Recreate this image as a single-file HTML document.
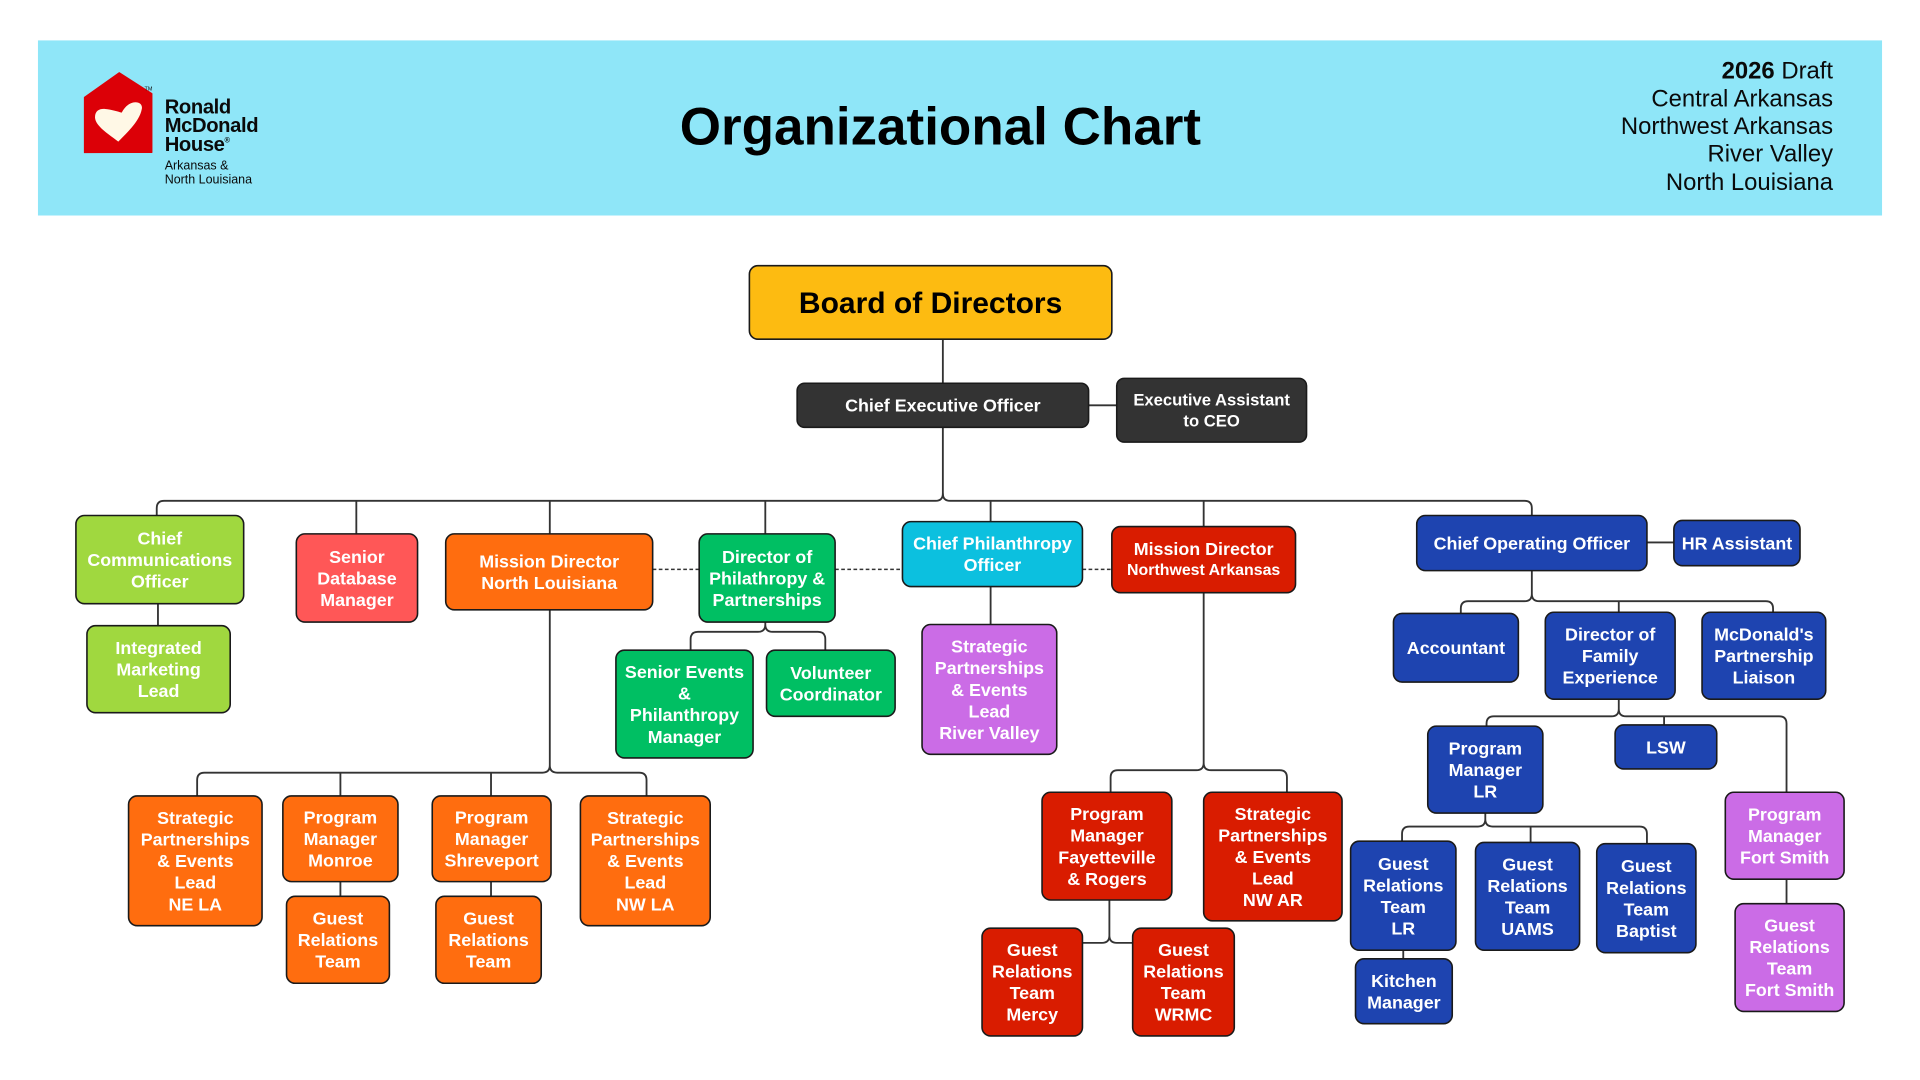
<!DOCTYPE html>
<html>
<head>
<meta charset="utf-8">
<style>
html,body{margin:0;padding:0;background:#ffffff;width:1920px;height:1080px;overflow:hidden}
svg{display:block}
</style>
</head>
<body>
<svg width="1920" height="1080" viewBox="0 0 1568 882" xmlns="http://www.w3.org/2000/svg" font-family="'Liberation Sans', Arial, sans-serif">
  <rect x="0" y="0" width="1568" height="882" fill="#ffffff"/>
  <!-- Banner -->
  <rect x="31" y="33" width="1506" height="143" fill="#8fe6f8"/>
  <!-- Logo -->
  <path d="M69,79.5 L97.4,59.4 L124,76.5 L124,124.4 L69,124.6 Z" fill="#dc0007" stroke="#dc0007" stroke-width="1" stroke-linejoin="round"/>
  <path d="M96.6,115.7 C88,109 78,103 77.6,96 C77.4,90 82,88.5 86,89 C91,89.5 96,91 99.4,92 C102,87 106,83.6 110.5,83.5 C114.5,83.5 116.5,86 115.8,89 C114,99 104,108 96.6,115.7 Z" fill="#fff8e6"/>
  <text x="118" y="74" font-size="4.5" fill="#111">TM</text>
  <g fill="#0a0a0a" font-weight="bold" font-size="16.5" letter-spacing="-0.3">
    <text x="134.5" y="92.5">Ronald</text>
    <text x="134.5" y="108">McDonald</text>
    <text x="134.5" y="123.5">House<tspan font-size="6" dy="-7">®</tspan></text>
  </g>
  <g fill="#0a0a0a" font-size="10.2">
    <text x="134.5" y="138.3">Arkansas &amp;</text>
    <text x="134.5" y="149.7">North Louisiana</text>
  </g>
  <!-- Title -->
  <text x="768" y="118" text-anchor="middle" font-size="43.3" font-weight="bold" fill="#000">Organizational Chart</text>
  <!-- Right info -->
  <g font-size="19.5" fill="#0a0a0a" text-anchor="end">
    <text x="1497" y="64"><tspan font-weight="bold">2026</tspan> Draft</text>
    <text x="1497" y="87">Central Arkansas</text>
    <text x="1497" y="109.5">Northwest Arkansas</text>
    <text x="1497" y="132">River Valley</text>
    <text x="1497" y="155">North Louisiana</text>
  </g>

  <!-- Connectors -->
  <g fill="none" stroke="#333" stroke-width="1.5">
    <path d="M770,277 V313"/>
    <path d="M889,331 H912"/>
    <path d="M128,421 V415 Q128,409 134,409 H764 Q770,409 770,403 V349"/>
    <path d="M770,403 Q770,409 776,409 H1245 Q1251,409 1251,415 V421"/>
    <path d="M291,409 V436 M449,409 V436 M625,409 V436 M809,409 V426 M983,409 V430"/>
    <path d="M129,493 V511"/>
    <path d="M625,508 V510 Q625,516 619,516 H570 Q564,516 564,522 V531 M625,510 Q625,516 631,516 H668 Q674,516 674,522 V531"/>
    <path d="M809,479 V510"/>
    <path d="M449,498 V625 Q449,631 443,631 H167 Q161,631 161,637 V650 M449,625 Q449,631 455,631 H522 Q528,631 528,637 V650 M278,631 V650 M401,631 V650"/>
    <path d="M278,720 V732 M401,720 V732"/>
    <path d="M983,484 V623 Q983,629 977,629 H913 Q907,629 907,635 V647 M983,623 Q983,629 989,629 H1045 Q1051,629 1051,635 V647"/>
    <path d="M906,735 V764 Q906,770 900,770 H884 M906,764 Q906,770 912,770 H925"/>
    <path d="M1251,466 V485 Q1251,491 1245,491 H1199 Q1193,491 1193,497 V501 M1251,485 Q1251,491 1257,491 H1442 Q1448,491 1448,497 V500 M1322,491 V500"/>
    <path d="M1345,443 H1367"/>
    <path d="M1322,571 V579 Q1322,585 1316,585 H1220 Q1214,585 1214,591 V593 M1322,579 Q1322,585 1328,585 H1453 Q1459,585 1459,591 V647 M1359,585 V592"/>
    <path d="M1213,664 V669 Q1213,675 1207,675 H1151 Q1145,675 1145,681 V687 M1213,669 Q1213,675 1219,675 H1339 Q1345,675 1345,681 V689 M1250,675 V688"/>
    <path d="M1146,776 V783"/>
    <path d="M1459,718 V738"/>
  </g>
  <g fill="none" stroke="#333" stroke-width="1.3" stroke-dasharray="3,2">
    <path d="M533,465 H571 M682,465 H737 M884,465 H908"/>
  </g>

  <!-- Boxes -->
  <g stroke="#1a1a1a" stroke-width="1.3">
    <rect x="612" y="217" width="296" height="60" rx="7" fill="#fdbb11"/>
    <rect x="651" y="313" width="238" height="36" rx="6" fill="#333333"/>
    <rect x="912" y="309" width="155" height="52" rx="6" fill="#333333"/>
    <rect x="62" y="421" width="137" height="72" rx="7" fill="#a0d83f"/>
    <rect x="71" y="511" width="117" height="71" rx="7" fill="#a0d83f"/>
    <rect x="242" y="436" width="99" height="72" rx="7" fill="#ff5757"/>
    <rect x="364" y="436" width="169" height="62" rx="7" fill="#ff6d0f"/>
    <rect x="571" y="436" width="111" height="72" rx="7" fill="#00bf63"/>
    <rect x="737" y="426" width="147" height="53" rx="7" fill="#0cc0df"/>
    <rect x="908" y="430" width="150" height="54" rx="7" fill="#d91c00"/>
    <rect x="1157" y="421" width="188" height="45" rx="7" fill="#1e44b0"/>
    <rect x="1367" y="425" width="103" height="37" rx="7" fill="#1e44b0"/>
    <rect x="503" y="531" width="112" height="88" rx="7" fill="#00bf63"/>
    <rect x="626" y="531" width="105" height="54" rx="7" fill="#00bf63"/>
    <rect x="753" y="510" width="110" height="106" rx="7" fill="#cb6ce6"/>
    <rect x="105" y="650" width="109" height="106" rx="7" fill="#ff6d0f"/>
    <rect x="231" y="650" width="94" height="70" rx="7" fill="#ff6d0f"/>
    <rect x="234" y="732" width="84" height="71" rx="7" fill="#ff6d0f"/>
    <rect x="353" y="650" width="97" height="70" rx="7" fill="#ff6d0f"/>
    <rect x="356" y="732" width="86" height="71" rx="7" fill="#ff6d0f"/>
    <rect x="474" y="650" width="106" height="106" rx="7" fill="#ff6d0f"/>
    <rect x="851" y="647" width="106" height="88" rx="7" fill="#d91c00"/>
    <rect x="983" y="647" width="113" height="105" rx="7" fill="#d91c00"/>
    <rect x="802" y="758" width="82" height="88" rx="7" fill="#d91c00"/>
    <rect x="925" y="758" width="83" height="88" rx="7" fill="#d91c00"/>
    <rect x="1138" y="501" width="102" height="56" rx="7" fill="#1e44b0"/>
    <rect x="1262" y="500" width="106" height="71" rx="7" fill="#1e44b0"/>
    <rect x="1390" y="500" width="101" height="71" rx="7" fill="#1e44b0"/>
    <rect x="1166" y="593" width="94" height="71" rx="7" fill="#1e44b0"/>
    <rect x="1319" y="592" width="83" height="36" rx="7" fill="#1e44b0"/>
    <rect x="1409" y="647" width="97" height="71" rx="7" fill="#cb6ce6"/>
    <rect x="1417" y="738" width="89" height="88" rx="7" fill="#cb6ce6"/>
    <rect x="1103" y="687" width="86" height="89" rx="7" fill="#1e44b0"/>
    <rect x="1205" y="688" width="85" height="88" rx="7" fill="#1e44b0"/>
    <rect x="1304" y="689" width="81" height="89" rx="7" fill="#1e44b0"/>
    <rect x="1107" y="783" width="79" height="53" rx="7" fill="#1e44b0"/>
  </g>

  <!-- Box text -->
  <text x="760" y="255.7" text-anchor="middle" font-size="24.5" font-weight="bold" fill="#000">Board of Directors</text>
  <g font-weight="bold" font-size="14.6" fill="#ffffff" text-anchor="middle">
    <text x="770" y="336.2">Chief Executive Officer</text>
    <text x="989.5" y="331.3" font-size="13.6">Executive Assistant</text>
    <text x="989.5" y="348.3" font-size="13.6">to CEO</text>

    <text x="130.5" y="444.6">Chief</text>
    <text x="130.5" y="462.2">Communications</text>
    <text x="130.5" y="479.8">Officer</text>

    <text x="129.5" y="534.1">Integrated</text>
    <text x="129.5" y="551.7">Marketing</text>
    <text x="129.5" y="569.3">Lead</text>

    <text x="291.5" y="459.6">Senior</text>
    <text x="291.5" y="477.2">Database</text>
    <text x="291.5" y="494.8">Manager</text>

    <text x="448.5" y="463.4">Mission Director</text>
    <text x="448.5" y="481">North Louisiana</text>

    <text x="626.5" y="459.6">Director of</text>
    <text x="626.5" y="477.2">Philathropy &amp;</text>
    <text x="626.5" y="494.8">Partnerships</text>

    <text x="810.5" y="448.9">Chief Philanthropy</text>
    <text x="810.5" y="466.5">Officer</text>

    <text x="983" y="453.2">Mission Director</text>
    <text x="983" y="469.6" font-size="13">Northwest Arkansas</text>

    <text x="1251" y="448.7">Chief Operating Officer</text>
    <text x="1418.5" y="448.7">HR Assistant</text>

    <text x="559" y="553.8">Senior Events</text>
    <text x="559" y="571.4">&amp;</text>
    <text x="559" y="589">Philanthropy</text>
    <text x="559" y="606.6">Manager</text>

    <text x="678.5" y="554.4">Volunteer</text>
    <text x="678.5" y="572">Coordinator</text>

    <text x="808" y="533">Strategic</text>
    <text x="808" y="550.6">Partnerships</text>
    <text x="808" y="568.2">&amp; Events</text>
    <text x="808" y="585.8">Lead</text>
    <text x="808" y="603.4">River Valley</text>

    <text x="159.5" y="673">Strategic</text>
    <text x="159.5" y="690.6">Partnerships</text>
    <text x="159.5" y="708.2">&amp; Events</text>
    <text x="159.5" y="725.8">Lead</text>
    <text x="159.5" y="743.4">NE LA</text>

    <text x="278" y="672.6">Program</text>
    <text x="278" y="690.2">Manager</text>
    <text x="278" y="707.8">Monroe</text>

    <text x="276" y="755.1">Guest</text>
    <text x="276" y="772.7">Relations</text>
    <text x="276" y="790.3">Team</text>

    <text x="401.5" y="672.6">Program</text>
    <text x="401.5" y="690.2">Manager</text>
    <text x="401.5" y="707.8">Shreveport</text>

    <text x="399" y="755.1">Guest</text>
    <text x="399" y="772.7">Relations</text>
    <text x="399" y="790.3">Team</text>

    <text x="527" y="673">Strategic</text>
    <text x="527" y="690.6">Partnerships</text>
    <text x="527" y="708.2">&amp; Events</text>
    <text x="527" y="725.8">Lead</text>
    <text x="527" y="743.4">NW LA</text>

    <text x="904" y="669.8">Program</text>
    <text x="904" y="687.4">Manager</text>
    <text x="904" y="705">Fayetteville</text>
    <text x="904" y="722.6">&amp; Rogers</text>

    <text x="1039.5" y="669.5">Strategic</text>
    <text x="1039.5" y="687.1">Partnerships</text>
    <text x="1039.5" y="704.7">&amp; Events</text>
    <text x="1039.5" y="722.3">Lead</text>
    <text x="1039.5" y="739.9">NW AR</text>

    <text x="843" y="780.8">Guest</text>
    <text x="843" y="798.4">Relations</text>
    <text x="843" y="816">Team</text>
    <text x="843" y="833.6">Mercy</text>

    <text x="966.5" y="780.8">Guest</text>
    <text x="966.5" y="798.4">Relations</text>
    <text x="966.5" y="816">Team</text>
    <text x="966.5" y="833.6">WRMC</text>

    <text x="1189" y="534.2">Accountant</text>

    <text x="1315" y="523.1">Director of</text>
    <text x="1315" y="540.7">Family</text>
    <text x="1315" y="558.3">Experience</text>

    <text x="1440.5" y="523.1">McDonald's</text>
    <text x="1440.5" y="540.7">Partnership</text>
    <text x="1440.5" y="558.3">Liaison</text>

    <text x="1213" y="616.1">Program</text>
    <text x="1213" y="633.7">Manager</text>
    <text x="1213" y="651.3">LR</text>

    <text x="1360.5" y="615.2">LSW</text>

    <text x="1457.5" y="670.1">Program</text>
    <text x="1457.5" y="687.7">Manager</text>
    <text x="1457.5" y="705.3">Fort Smith</text>

    <text x="1461.5" y="760.8">Guest</text>
    <text x="1461.5" y="778.4">Relations</text>
    <text x="1461.5" y="796">Team</text>
    <text x="1461.5" y="813.6">Fort Smith</text>

    <text x="1146" y="710.3">Guest</text>
    <text x="1146" y="727.9">Relations</text>
    <text x="1146" y="745.5">Team</text>
    <text x="1146" y="763.1">LR</text>

    <text x="1247.5" y="710.8">Guest</text>
    <text x="1247.5" y="728.4">Relations</text>
    <text x="1247.5" y="746">Team</text>
    <text x="1247.5" y="763.6">UAMS</text>

    <text x="1344.5" y="712.3">Guest</text>
    <text x="1344.5" y="729.9">Relations</text>
    <text x="1344.5" y="747.5">Team</text>
    <text x="1344.5" y="765.1">Baptist</text>

    <text x="1146.5" y="805.9">Kitchen</text>
    <text x="1146.5" y="823.5">Manager</text>
  </g>
</svg>
</body>
</html>
